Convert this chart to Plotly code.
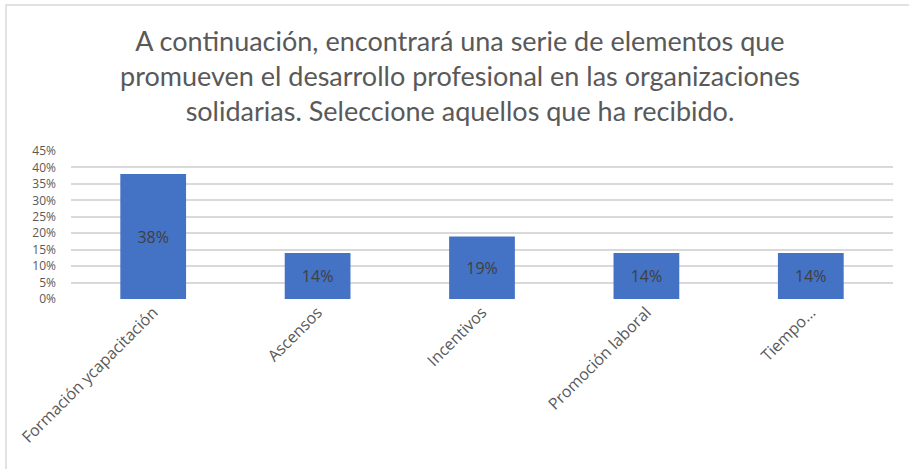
import plotly.graph_objects as go

# Datos del gráfico
categorias = ["Formación ycapacitación", "Ascensos", "Incentivos",
              "Promoción laboral", "Tiempo..."]
porcentajes = [0.38, 0.14, 0.19, 0.14, 0.14]
etiquetas = ["38%", "14%", "19%", "14%", "14%"]

titulo = ("A continuación, encontrará una serie de elementos que<br>"
          "promueven el desarrollo profesional en las organizaciones<br>"
          "solidarias. Seleccione aquellos que ha recibido.")

fig = go.Figure(go.Bar(
    x=categorias,
    y=porcentajes,
    text=etiquetas,
    textposition="inside",
    insidetextanchor="middle",
    textangle=0,
    textfont=dict(family="Open Sans", size=16, color="#404040"),
    marker=dict(color="#4472C4", line=dict(width=0)),
))

fig.update_layout(
    width=909, height=469,
    margin=dict(l=71, r=16, t=151, b=170),
    plot_bgcolor="white", paper_bgcolor="white",
    bargap=0.6,
    showlegend=False,
    title=dict(text=titulo, x=0.506, xanchor="center",
               y=0.891, yanchor="top", yref="container",
               font=dict(family="Lato", size=27, color="#595959")),
    # marco gris del gráfico
    shapes=[dict(type="rect", xref="paper", yref="paper",
                 x0=(6 - 71) / 822, x1=1.2, y0=-3, y1=(299 - 5) / 148,
                 line=dict(color="#d9d9d9", width=1.5), layer="below")],
)
fig.update_xaxes(
    tickangle=-45,
    tickfont=dict(family="Open Sans", size=16, color="#595959"),
    showgrid=False, showline=False, ticks="",
)
fig.update_yaxes(
    range=[0, 0.45], dtick=0.05, tickformat=".0%",
    tickfont=dict(family="Open Sans", size=12, color="#595959"),
    showgrid=True, gridcolor="#d9d9d9", gridwidth=1.5,
    zeroline=False, showline=False, ticks="", ticklabelstandoff=14,
)

# quitar el margen del body para que la figura empiece en (0, 0)
fig.write_html("out.html", config={"displayModeBar": False},
               post_script="document.body.style.margin='0';")
